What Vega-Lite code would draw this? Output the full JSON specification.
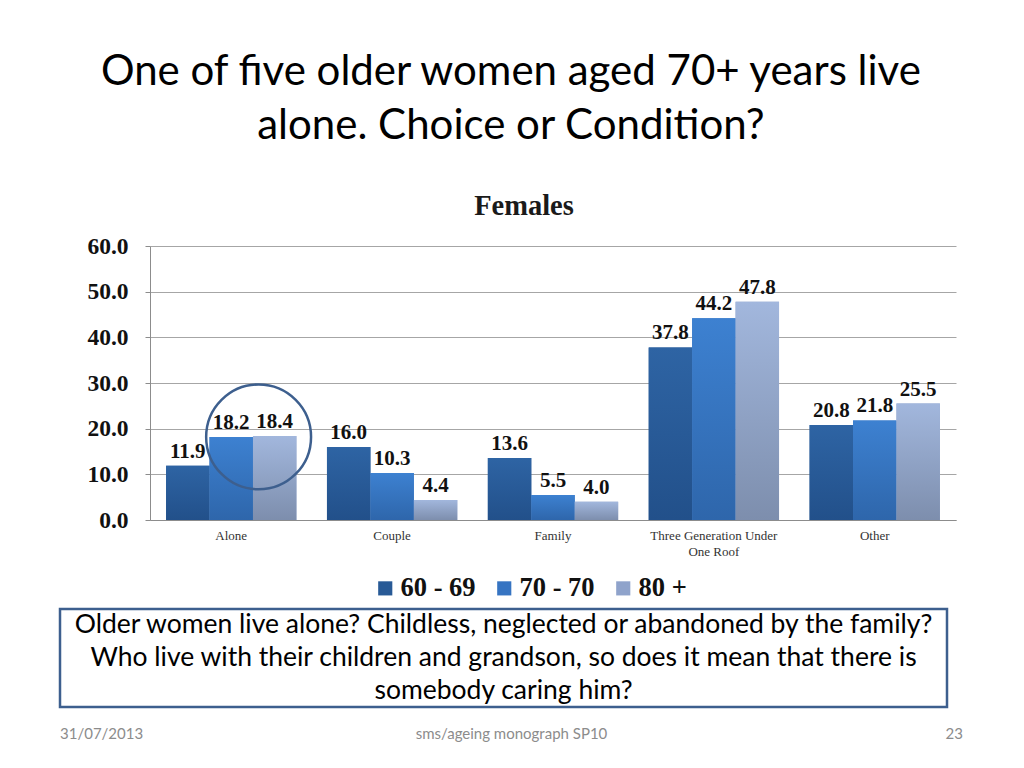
{
  "$schema": "https://vega.github.io/schema/vega-lite/v6.json",
  "background": "white",
  "padding": {"left": 58, "top": 50, "right": 20, "bottom": 10},
  "title": {
    "text": ["One of five older women aged 70+ years live", "alone. Choice or Condition?"],
    "font": "Lato",
    "fontSize": 42,
    "fontWeight": "normal",
    "color": "#000000",
    "lineHeight": 54,
    "anchor": "middle",
    "frame": "bounds",
    "offset": 44
  },
  "spacing": 5,
  "resolve": {"legend": {"color": "independent"}, "scale": {"x": "independent", "y": "independent"}},
  "config": {
    "view": {"stroke": null}
  },
  "datasets": {
    "bars": [
      {"group": "Alone", "series": "60 - 69", "value": 11.9},
      {"group": "Alone", "series": "70 - 70", "value": 18.2},
      {"group": "Alone", "series": "80 +", "value": 18.4},
      {"group": "Couple", "series": "60 - 69", "value": 16.0},
      {"group": "Couple", "series": "70 - 70", "value": 10.3},
      {"group": "Couple", "series": "80 +", "value": 4.4},
      {"group": "Family", "series": "60 - 69", "value": 13.6},
      {"group": "Family", "series": "70 - 70", "value": 5.5},
      {"group": "Family", "series": "80 +", "value": 4.0},
      {"group": "Three Generation Under One Roof", "series": "60 - 69", "value": 37.8},
      {"group": "Three Generation Under One Roof", "series": "70 - 70", "value": 44.2},
      {"group": "Three Generation Under One Roof", "series": "80 +", "value": 47.8},
      {"group": "Other", "series": "60 - 69", "value": 20.8},
      {"group": "Other", "series": "70 - 70", "value": 21.8},
      {"group": "Other", "series": "80 +", "value": 25.5}
    ],
    "circle": [{"group": "Alone", "value": 18.2}],
    "box": [
      {"line": 1, "text": "Older women live alone? Childless, neglected or abandoned by the family?"},
      {"line": 2, "text": "Who live with their children and grandson, so does it mean that there is"},
      {"line": 3, "text": "somebody caring him?"}
    ],
    "footer": [
      {"slot": "left", "text": "31/07/2013"},
      {"slot": "center", "text": "sms/ageing monograph SP10"},
      {"slot": "right", "text": "23"}
    ]
  },
  "vconcat": [
    {
      "width": 896,
      "height": 274,
      "title": {
        "text": "Females",
        "font": "Liberation Serif",
        "fontSize": 28.5,
        "fontWeight": "bold",
        "color": "#1a1a1a",
        "anchor": "middle",
        "frame": "group",
        "dx": 16,
        "offset": 14
      },
      "data": {"name": "bars"},
      "encoding": {
        "x": {
          "field": "group",
          "type": "nominal",
          "sort": ["Alone", "Couple", "Family", "Three Generation Under One Roof", "Other"],
          "scale": {"paddingInner": 0.19, "paddingOuter": 0.1, "range": [90, 896]},
          "axis": {
            "title": null,
            "labelAngle": 0,
            "labelFont": "Liberation Serif",
            "labelFontSize": 13,
            "labelColor": "#333333",
            "labelPadding": 9,
            "labelLineHeight": 16,
            "labelBaseline": "top",
            "labelExpr": "datum.label == 'Three Generation Under One Roof' ? ['Three Generation Under', 'One Roof'] : datum.label",
            "ticks": false,
            "domainColor": "#8c8c8c",
            "domainWidth": 1,
            "grid": false
          }
        }
      },
      "layer": [
        {
          "mark": {"type": "bar"},
          "encoding": {
            "xOffset": {"field": "series", "type": "nominal", "scale": {"paddingInner": 0, "paddingOuter": 0}},
            "y": {
              "field": "value",
              "type": "quantitative",
              "scale": {"domain": [0, 60]},
              "axis": {
                "title": null,
                "values": [0, 10, 20, 30, 40, 50, 60],
                "format": ".1f",
                "offset": -90,
                "labelFont": "Liberation Serif",
                "labelFontSize": 23.5,
                "labelFontWeight": "bold",
                "labelColor": "#111111",
                "labelPadding": 17,
                "tickSize": 5,
                "tickColor": "#8c8c8c",
                "domainColor": "#8c8c8c",
                "gridColor": "#a6a6a6",
                "gridWidth": 1
              }
            },
            "color": {
              "field": "series",
              "type": "nominal",
              "scale": {"domain": ["60 - 69", "70 - 70", "80 +"], "range": ["#285a96", "#3674c2", "#8fa3cb"]},
              "legend": {
                "title": null,
                "orient": "none",
                "legendX": 312,
                "legendY": 329,
                "direction": "horizontal",
                "symbolType": "square",
                "symbolSize": 200,
                "symbolStrokeWidth": 0,
                "labelFont": "Liberation Serif",
                "labelFontSize": 26.5,
                "labelFontWeight": "bold",
                "labelColor": "#111111",
                "labelOffset": 2,
                "columnPadding": 15
              }
            }
          }
        },
        {
          "transform": [{"filter": "datum.series == '60 - 69'"}],
          "mark": {"type": "bar", "color": {"gradient": "linear", "x1": 0, "y1": 0, "x2": 0, "y2": 1, "stops": [{"offset": 0, "color": "#2e64a4"}, {"offset": 1, "color": "#22508a"}]}},
          "encoding": {
            "xOffset": {"field": "series", "type": "nominal"},
            "y": {"field": "value", "type": "quantitative"}
          }
        },
        {
          "transform": [{"filter": "datum.series == '70 - 70'"}],
          "mark": {"type": "bar", "color": {"gradient": "linear", "x1": 0, "y1": 0, "x2": 0, "y2": 1, "stops": [{"offset": 0, "color": "#3d81d1"}, {"offset": 1, "color": "#2e66ab"}]}},
          "encoding": {
            "xOffset": {"field": "series", "type": "nominal"},
            "y": {"field": "value", "type": "quantitative"}
          }
        },
        {
          "transform": [{"filter": "datum.series == '80 +'"}],
          "mark": {"type": "bar", "color": {"gradient": "linear", "x1": 0, "y1": 0, "x2": 0, "y2": 1, "stops": [{"offset": 0, "color": "#a2b7dd"}, {"offset": 1, "color": "#7d8ead"}]}},
          "encoding": {
            "xOffset": {"field": "series", "type": "nominal"},
            "y": {"field": "value", "type": "quantitative"}
          }
        },
        {
          "mark": {"type": "text", "font": "Liberation Serif", "fontSize": 21, "fontWeight": "bold", "color": "#111111", "baseline": "alphabetic", "dy": -8},
          "encoding": {
            "xOffset": {"field": "series", "type": "nominal"},
            "y": {"field": "value", "type": "quantitative"},
            "text": {"field": "value", "type": "quantitative", "format": ".1f"}
          }
        },
        {
          "data": {"name": "circle"},
          "mark": {"type": "point", "shape": "circle", "filled": false, "size": 11000, "stroke": "#3d5f8e", "strokeWidth": 2.5, "opacity": 1},
          "encoding": {
            "x": {"field": "group", "type": "nominal", "bandPosition": 0.71},
            "y": {"field": "value", "type": "quantitative"}
          }
        }
      ]
    },
    {
      "width": 887,
      "height": 98,
      "view": {"stroke": "#3d5f8e", "strokeWidth": 2.5},
      "data": {"name": "box"},
      "mark": {"type": "text", "font": "Lato", "fontSize": 26.5, "color": "#000000", "align": "center", "baseline": "middle"},
      "encoding": {
        "x": {"datum": "c", "type": "nominal", "axis": null, "scale": {"type": "point", "padding": 0.5}},
        "y": {"field": "line", "type": "ordinal", "axis": null, "scale": {"paddingInner": 0, "paddingOuter": 0}},
        "text": {"field": "text", "type": "nominal"}
      }
    },
    {
      "width": 903,
      "height": 40,
      "data": {"name": "footer"},
      "encoding": {
        "x": {"field": "slot", "type": "nominal", "axis": null, "scale": {"type": "point", "domain": ["left", "center", "right"], "padding": 0}},
        "text": {"field": "text", "type": "nominal"}
      },
      "layer": [
        {
          "transform": [{"filter": "datum.slot == 'left'"}],
          "mark": {"type": "text", "font": "Lato", "fontSize": 15, "color": "#8c8c8c", "baseline": "middle", "align": "left"}
        },
        {
          "transform": [{"filter": "datum.slot == 'center'"}],
          "mark": {"type": "text", "font": "Lato", "fontSize": 15, "color": "#8c8c8c", "baseline": "middle", "align": "center"}
        },
        {
          "transform": [{"filter": "datum.slot == 'right'"}],
          "mark": {"type": "text", "font": "Lato", "fontSize": 15, "color": "#8c8c8c", "baseline": "middle", "align": "right"}
        }
      ]
    }
  ]
}
